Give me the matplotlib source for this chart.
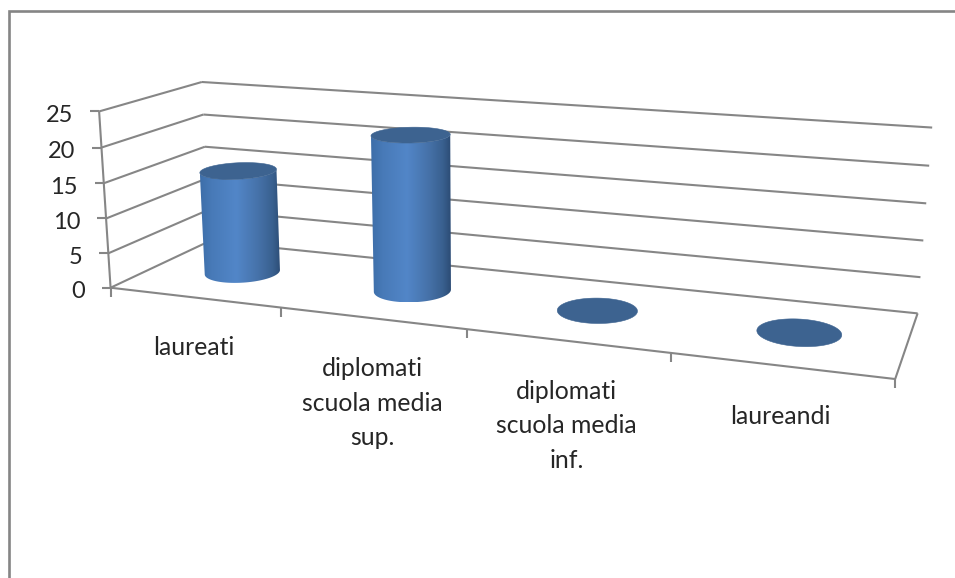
import numpy as np
import matplotlib
matplotlib.use("Agg")
import matplotlib.pyplot as plt
from matplotlib.colors import LinearSegmentedColormap
from matplotlib.patches import Polygon

# Datos
categories = ["laureati", "diplomati\nscuola media\nsup.", "diplomati\nscuola media\ninf.", "laureandi"]
values = [15, 22, 0, 0]
y_ticks = [0, 5, 10, 15, 20, 25]

plt.rcParams['font.family'] = ['Lato', 'DejaVu Sans']

# Calibracion de la vista 3D: (categoria, profundidad, valor) -> pixel
calib = [
    (0, 0, 0, 112, 287), (0, 0, 25, 98, 111),
    (0, 1, 0, 208, 242), (0, 1, 25, 203, 82),
    (4, 1, 0, 918, 312), (4, 1, 25, 932, 128),
    (4, 0, 0, 895, 379), (1, 0, 0, 281, 307),
    (2, 0, 0, 467, 330), (3, 0, 0, 671, 354),
]
rows = []
for X, Y, Z, px, py in calib:
    rows.append([X, Y, Z, 1, 0, 0, 0, 0, -px * X, -px * Y, -px * Z, -px])
    rows.append([0, 0, 0, 0, X, Y, Z, 1, -py * X, -py * Y, -py * Z, -py])
P = np.linalg.svd(np.array(rows, dtype=float))[2][-1].reshape(3, 4)


def proj(u, d, v):
    p = P @ np.array([u, d, v, 1.0])
    return p[0] / p[2], p[1] / p[2]


fig = plt.figure(figsize=(9.55, 5.78), dpi=100)
ax = fig.add_axes([0, 0, 1, 1])
ax.axis("off")

line_color = "#868686"
lw = 1.5


def seg(a, b, color=line_color, width=lw):
    ax.plot([a[0], b[0]], [a[1], b[1]], color=color, lw=width, solid_capstyle="butt", zorder=2)


# Marco exterior
ax.plot([8.5, 8.5, 955], [578, 10.5, 10.5], color="#858585", lw=1.9, solid_joinstyle="miter", zorder=1)

# Rejilla en paredes y suelo
for v in y_ticks:
    seg(proj(0, 0, v), proj(0, 1, v))
    seg(proj(0, 1, v), proj(4, 1, v))
    x, y = proj(0, 0, v)
    seg((x - 9, y), (x, y))
    ax.text(x - 26, y + 4, str(v), ha="right", va="center", fontsize=17, color="#262626", zorder=5)
seg(proj(0, 0, 0), proj(0, 0, 25))
seg(proj(0, 0, 0), proj(4, 0, 0))
seg(proj(4, 0, 0), proj(4, 1, 0))

# Marcas y etiquetas de categorias
for i in range(5):
    x, y = proj(i, 0, 0)
    seg((x, y), (x, y + 9))
for i, cat in enumerate(categories):
    x, y = proj(i + 0.5, 0, 0)
    ax.text(x, y + 39, cat, ha="center", va="top", fontsize=17.8, color="#262626",
            linespacing=1.6, zorder=5)

# Cilindros
shade = LinearSegmentedColormap.from_list("cyl", [
    (0.0, "#3d6ea9"), (0.15, "#487ab8"), (0.45, "#5286c8"),
    (0.72, "#4672a9"), (0.9, "#39608f"), (1.0, "#2c4c75"),
])
top_color = "#3d6390"
radius_u = 0.198
radius_d = 0.21
ang = np.linspace(0, 2 * np.pi, 361)


def front_arc(ring):
    # arco delantero entre los extremos izquierdo y derecho de la elipse
    half = len(ring) // 2
    start = half // 2 + np.argmin(ring[half // 2:half + half // 2, 0])
    ring2 = np.vstack([ring[:-1], ring[:-1]])
    stop = start + np.argmax(ring2[start:start + half, 0])
    return ring2[start:stop + 1]


for i, val in enumerate(values):
    cu, cd = i + 0.5, 0.5
    ring_u = cu + radius_u * np.cos(ang)
    ring_d = cd + radius_d * np.sin(ang)
    top = np.array([proj(a, b, val) for a, b in zip(ring_u, ring_d)])
    if val > 0:
        bot = np.array([proj(a, b, 0) for a, b in zip(ring_u, ring_d)])
        x0 = min(top[:, 0].min(), bot[:, 0].min())
        x1 = max(top[:, 0].max(), bot[:, 0].max())
        outline = np.vstack([front_arc(bot), front_arc(top)[::-1]])
        body = Polygon(outline, closed=True, facecolor="none", edgecolor="none", transform=ax.transData)
        ax.add_patch(body)
        grad = np.linspace(0, 1, 256)[None, :]
        im = ax.imshow(grad, cmap=shade, extent=[x0, x1, bot[:, 1].max(), top[:, 1].min()],
                       aspect="auto", zorder=3, interpolation="bilinear")
        im.set_clip_path(body)
    ax.fill(top[:, 0], top[:, 1], color=top_color, lw=0.4, zorder=4)

ax.set_xlim(0, 955)
ax.set_ylim(578, 0)
fig.savefig("out.png", dpi=100)
